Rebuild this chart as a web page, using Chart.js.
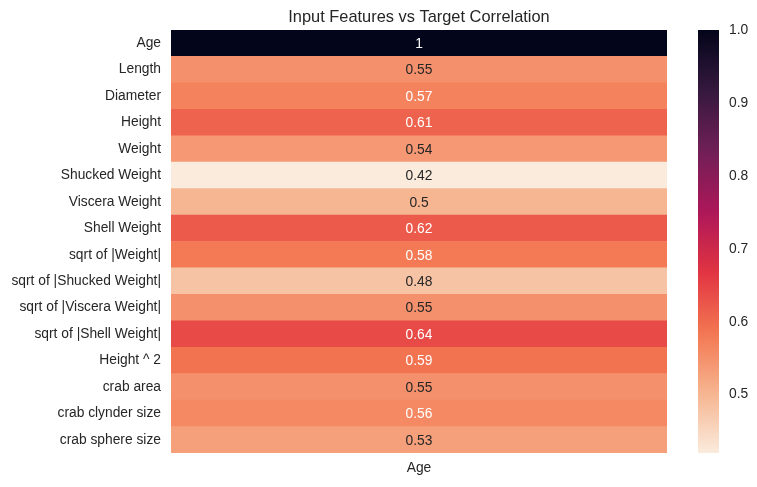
<!DOCTYPE html>
<html>
<head>
<meta charset="utf-8">
<title>Input Features vs Target Correlation</title>
<script src="https://cdn.jsdelivr.net/npm/chart.js@4"></script>
<style>
    body { margin: 0; background: #ffffff; }
    #heat { display: block; }
</style>
</head>
<body>
<canvas id="heat" width="757" height="487"></canvas>
<script>
/* ================= DATA ================= */
const features = [
    "Age", "Length", "Diameter", "Height", "Weight",
    "Shucked Weight", "Viscera Weight", "Shell Weight",
    "sqrt of |Weight|", "sqrt of |Shucked Weight|",
    "sqrt of |Viscera Weight|", "sqrt of |Shell Weight|",
    "Height ^ 2", "crab area", "crab clynder size", "crab sphere size"
];
const corrAge = [
    1, 0.55, 0.57, 0.61, 0.54, 0.42, 0.5, 0.62,
    0.58, 0.48, 0.55, 0.64, 0.59, 0.55, 0.56, 0.53
];
const columnLabels = ["Age"];
const colorbarTicks = [0.5, 0.6, 0.7, 0.8, 0.9, 1.0];
const chartTitle = "Input Features vs Target Correlation";

/* ================= COLORMAP (rocket_r) ================= */
const vmin = Math.min(...corrAge);
const vmax = Math.max(...corrAge);

// rocket stops, dark -> light
const rocket = [
    [0.000, [3, 5, 26]],
    [0.143, [53, 25, 62]],
    [0.286, [112, 31, 87]],
    [0.429, [173, 23, 89]],
    [0.571, [225, 51, 66]],
    [0.714, [243, 118, 81]],
    [0.857, [246, 180, 143]],
    [1.000, [250, 235, 221]]
];

function rocketAt(t) {
    t = Math.max(0, Math.min(1, t));
    for (let i = 1; i < rocket.length; i++) {
        if (t <= rocket[i][0]) {
            const [t0, c0] = rocket[i - 1];
            const [t1, c1] = rocket[i];
            const f = (t - t0) / (t1 - t0);
            const c = c0.map((v, k) => Math.round(v + (c1[k] - v) * f));
            return `rgb(${c[0]},${c[1]},${c[2]})`;
        }
    }
    return "rgb(250,235,221)";
}

function colorFor(v) {
    // reversed: low values light, high values dark
    return rocketAt(1 - (v - vmin) / (vmax - vmin));
}

const textDark = "#262626";
const fontFamily = '"Liberation Sans", Arial, sans-serif';
const tickSize = 13.8;
Chart.defaults.font.family = fontFamily;

// fixed axis sizes, no extra padding from the labels
function fixSize(w, h) {
    return s => {
        if (w !== null) s.width = w;
        if (h !== null) s.height = h;
        s.paddingTop = 0;
        s.paddingBottom = 0;
        s.paddingLeft = 0;
        s.paddingRight = 0;
    };
}

/* ================= PLUGINS ================= */
const heatExtras = {
    id: "heatExtras",
    afterDatasetsDraw(chart) {
        const ctx = chart.ctx;
        const area = chart.chartArea;
        const meta = chart.getDatasetMeta(0);

        // cell values
        ctx.save();
        ctx.font = `${tickSize}px ${fontFamily}`;
        ctx.textAlign = "center";
        ctx.textBaseline = "middle";
        meta.data.forEach((bar, i) => {
            const v = corrAge[i];
            ctx.fillStyle = v < 0.555 ? textDark : "#ffffff";
            ctx.fillText(String(Number(v.toPrecision(2))), (area.left + area.right) / 2, bar.y + 1);
        });

        // colorbar
        const cb = chart.scales.cb;
        const yTop = cb.getPixelForValue(vmax);
        const yBot = cb.getPixelForValue(vmin);
        const x0 = area.right + 31;
        const grad = ctx.createLinearGradient(0, yBot, 0, yTop);
        for (let s = 0; s <= 40; s++) {
            grad.addColorStop(s / 40, colorFor(vmin + (vmax - vmin) * s / 40));
        }
        ctx.fillStyle = grad;
        ctx.fillRect(x0, yTop, 21, yBot - yTop);

        // title
        ctx.fillStyle = textDark;
        ctx.font = `16.4px ${fontFamily}`;
        ctx.fillText(chartTitle, (area.left + area.right) / 2, 17);
        ctx.restore();
    }
};

/* ================= CHART ================= */
new Chart(document.getElementById("heat"), {
    type: "bar",
    data: {
        labels: features,
        datasets: [{
            label: columnLabels[0],
            data: corrAge.map(() => [0, 1]),
            backgroundColor: corrAge.map(colorFor),
            borderWidth: 0,
            barPercentage: 1,
            categoryPercentage: 1
        }]
    },
    options: {
        indexAxis: "y",
        responsive: false,
        animation: false,
        layout: { padding: { top: 30, left: 0, right: 0, bottom: 0 } },
        plugins: {
            legend: { display: false },
            tooltip: { enabled: false }
        },
        scales: {
            x: {
                type: "linear",
                min: 0,
                max: 1,
                grid: { display: false, drawTicks: false },
                border: { display: false },
                afterBuildTicks: s => { s.ticks = [{ value: 0.5 }]; },
                ticks: {
                    callback: () => columnLabels[0],
                    color: textDark,
                    font: { size: tickSize },
                    padding: 7,
                    maxRotation: 0
                },
                afterFit: fixSize(null, 34)
            },
            y: {
                grid: { display: false, drawTicks: false },
                border: { display: false },
                ticks: { color: textDark, font: { size: tickSize }, padding: 10, autoSkip: false },
                afterFit: fixSize(171, null)
            },
            cb: {
                axis: "y",
                position: "right",
                type: "linear",
                offset: false,
                min: vmin,
                max: vmax,
                grid: { display: false, drawTicks: false, offset: false },
                border: { display: false },
                afterBuildTicks: s => { s.ticks = colorbarTicks.map(v => ({ value: v })); },
                ticks: {
                    callback: v => v.toFixed(1),
                    color: textDark,
                    font: { size: tickSize },
                    padding: 62
                },
                afterFit: fixSize(90, null)
            }
        }
    },
    plugins: [heatExtras]
});
</script>
</body>
</html>
